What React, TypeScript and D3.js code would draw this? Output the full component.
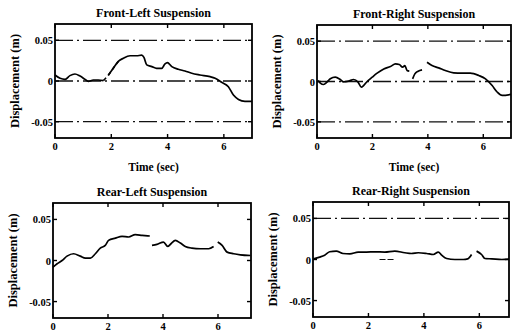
import React from "react";
import * as d3 from "d3";

const titles = ["Front-Left Suspension", "Front-Right Suspension", "Rear-Left Suspension", "Rear-Right Suspension"];
const xTicks = [0, 2, 4, 6];
const yTicks = [-0.05, 0, 0.05];
const yTickLabels = ["-0.05", "0", "0.05"];

// time (s), displacement (m); NaN marks a break in the trace
const frontLeftT = [0, 0.18, 0.36, 0.53, 0.71, 0.89, 1.07, 1.18, 1.36, 1.54, 1.72, NaN, 1.9, 2.07, 2.25, 2.43, 2.67, 2.9, 3.08, 3.16, 3.26, 3.44, 3.61, 3.79, 3.91, 3.99, 4.15, 4.38, 4.62, 4.86, 5.15, 5.51, 5.69, 5.92, 6.16, 6.34, 6.52, 6.75, 7.0];
const frontLeftV = [0.0074, 0.0033, 0.002, 0.0066, 0.0086, 0.006, 0.002, -0.0004, 0.0012, 0.0012, 0.0004, NaN, 0.0074, 0.0156, 0.024, 0.028, 0.031, 0.031, 0.0317, 0.029, 0.0198, 0.0177, 0.0156, 0.0156, 0.021, 0.0226, 0.0177, 0.0144, 0.0123, 0.0095, 0.0074, 0.0053, 0.0033, -0.0016, -0.007, -0.0173, -0.0226, -0.025, -0.025];
// faint dashed stretch of the front-left trace
const frontLeftFaintT = [1.72, 1.9, 2.07, 2.25];
const frontLeftFaintV = [0.0004, 0.0074, 0.0156, 0.024];

const frontRightT = [0.04, 0.12, 0.24, 0.36, 0.48, 0.66, 0.84, 0.96, 1.14, 1.32, 1.48, 1.6, 1.68, 1.81, 1.99, 2.17, 2.41, 2.65, 2.83, 2.97, 3.09, 3.17, 3.25, 3.33, NaN, 3.45, 3.53, 3.65, 3.79, NaN, 3.97, 4.15, 4.39, 4.63, 4.93, 5.23, 5.53, 5.84, 6.08, 6.32, 6.5, 6.68, 7.0];
const frontRightV = [0.0012, -0.002, -0.0037, -0.0008, 0.0033, 0.0053, 0.0025, -0.0004, 0.0004, 0.0025, -0.0008, -0.007, -0.005, 0, 0.0053, 0.0103, 0.0156, 0.0185, 0.0218, 0.021, 0.0177, 0.0198, 0.0136, 0.0128, NaN, 0.0033, 0.0095, 0.0128, 0.0144, NaN, 0.0239, 0.0198, 0.0169, 0.0136, 0.0107, 0.0103, 0.0103, 0.0074, 0.0033, -0.005, -0.013, -0.0173, -0.016];

const rearLeftT = [0, 0.15, 0.33, 0.51, 0.75, 0.99, 1.18, 1.36, 1.54, 1.72, 1.9, 2.02, 2.27, 2.51, 2.75, 2.99, 3.24, 3.52, NaN, 3.6, 3.78, 4.02, 4.17, 4.29, 4.45, 4.63, 4.81, 5.05, 5.36, 5.66, 5.84, NaN, 5.99, 6.15, 6.33, 6.57, 6.81, 7.18];
const rearLeftV = [-0.0082, -0.004, 0, 0.0053, 0.0082, 0.0053, 0.0029, 0.0029, 0.0082, 0.0151, 0.0184, 0.0245, 0.0273, 0.0294, 0.0286, 0.0314, 0.0306, 0.0298, NaN, 0.0184, 0.0196, 0.0224, 0.0171, 0.0204, 0.0245, 0.0212, 0.0171, 0.0151, 0.0143, 0.0143, 0.0171, NaN, 0.0224, 0.0184, 0.0102, 0.0082, 0.0069, 0.0061];

const rearRightT = [0.02, 0.24, 0.42, 0.6, 0.84, 1.08, 1.33, 1.63, 1.93, 2.23, 2.59, 2.95, 3.31, 3.55, 3.8, 4.1, 4.34, 4.52, 4.64, 4.82, 5.12, 5.42, 5.58, 5.72, NaN, 5.9, 6.08, 6.2, 6.45, 6.81, 7.07];
const rearRightV = [0.0008, 0.0029, 0.0053, 0.0094, 0.0102, 0.0073, 0.0069, 0.009, 0.009, 0.0094, 0.009, 0.0102, 0.0082, 0.0073, 0.0082, 0.0073, 0.0061, 0.009, 0.0053, 0.0012, 0, 0, 0.0008, 0.0061, NaN, 0.0102, 0.0061, 0.0012, 0.0008, 0, 0.0004];

const seriesT = [frontLeftT, frontRightT, rearLeftT, rearRightT];
const seriesV = [frontLeftV, frontRightV, rearLeftV, rearRightV];
// reference (limit) lines drawn per panel
const refLevels = [[0.05, 0, -0.05], [0.05, 0, -0.05], [], [0.05]];

const layouts = [
  { left: 55, right: 252, top: 24, bottom: 138, xMax: 7.0 },
  { left: 317, right: 511, top: 25, bottom: 138, xMax: 7.0 },
  { left: 53, right: 251, top: 203, bottom: 318, xMax: 7.2 },
  { left: 313, right: 509, top: 202, bottom: 317, xMax: 7.07 },
];

const FONT = "'Liberation Serif', 'DejaVu Serif', serif";

function Panel({ i }: { i: number }) {
  const L = layouts[i];
  const x = d3.scaleLinear().domain([0, L.xMax]).range([L.left, L.right]);
  const y = d3.scaleLinear().domain([-0.07, 0.07]).range([L.bottom, L.top]);
  const pts = seriesT[i].map((t, k) => [t, seriesV[i][k]] as [number, number]);
  const line = d3
    .line<[number, number]>()
    .defined((d) => !isNaN(d[0]) && !isNaN(d[1]))
    .x((d) => x(d[0]))
    .y((d) => y(d[1]))
    .curve(d3.curveMonotoneX);
  const faint = i === 0 ? frontLeftFaintT.map((t, k) => [t, frontLeftFaintV[k]] as [number, number]) : null;
  const cx = (L.left + L.right) / 2;
  const cy = (L.top + L.bottom) / 2;
  const top = i < 2;
  return (
    <g>
      <text x={cx} y={L.top - 7} textAnchor="middle" fontFamily={FONT} fontSize={12} fontWeight="bold">
        {titles[i]}
      </text>
      {refLevels[i].map((lv) => (
        <line
          key={lv}
          x1={L.left}
          x2={L.right}
          y1={y(lv)}
          y2={y(lv)}
          stroke="#111"
          strokeWidth={1.3}
          strokeDasharray="18,4,2,4"
        />
      ))}
      {i === 3 && (
        <line x1={x(2.4)} x2={x(2.95)} y1={y(0)} y2={y(0)} stroke="#111" strokeWidth={1.2} strokeDasharray="6,2" />
      )}
      {faint && <path d={line(faint) || ""} fill="none" stroke="#000" strokeWidth={1.6} strokeDasharray="4,3" />}
      <path d={line(pts) || ""} fill="none" stroke="#000" strokeWidth={1.7} />
      <rect x={L.left} y={L.top} width={L.right - L.left} height={L.bottom - L.top} fill="none" stroke="#000" strokeWidth={1.8} />
      {yTicks.map((v, k) => (
        <g key={v}>
          <line x1={L.left} x2={L.left + 4} y1={y(v)} y2={y(v)} stroke="#000" strokeWidth={1.4} />
          <line x1={L.right} x2={L.right - 4} y1={y(v)} y2={y(v)} stroke="#000" strokeWidth={1.4} />
          <text x={L.left - 2} y={y(v) + 4} textAnchor="end" fontFamily={FONT} fontSize={10.5} fontWeight="bold">
            {yTickLabels[k]}
          </text>
        </g>
      ))}
      {xTicks.map((t) => (
        <g key={t}>
          <line x1={x(t)} x2={x(t)} y1={L.bottom} y2={L.bottom - 4} stroke="#000" strokeWidth={1.4} />
          <line x1={x(t)} x2={x(t)} y1={L.top} y2={L.top + 4} stroke="#000" strokeWidth={1.4} />
          <text x={x(t)} y={L.bottom + 12} textAnchor="middle" fontFamily={FONT} fontSize={10.5} fontWeight="bold">
            {t}
          </text>
        </g>
      ))}
      {top && (
        <text x={cx} y={L.bottom + 33} textAnchor="middle" fontFamily={FONT} fontSize={11.5} fontWeight="bold">
          Time (sec)
        </text>
      )}
      <text
        transform={`translate(${L.left - 36},${cy}) rotate(-90)`}
        textAnchor="middle"
        fontFamily={FONT}
        fontSize={12.5}
        fontWeight="bold"
      >
        Displacement (m)
      </text>
    </g>
  );
}

export default function App() {
  return (
    <svg
      width={512}
      height={333}
      style={{ position: "absolute", left: 0, top: 0, background: "#fff" }}
      viewBox="0 0 512 333"
    >
      <rect width={512} height={333} fill="#fff" />
      {[0, 1, 2, 3].map((i) => (
        <Panel key={i} i={i} />
      ))}
    </svg>
  );
}
